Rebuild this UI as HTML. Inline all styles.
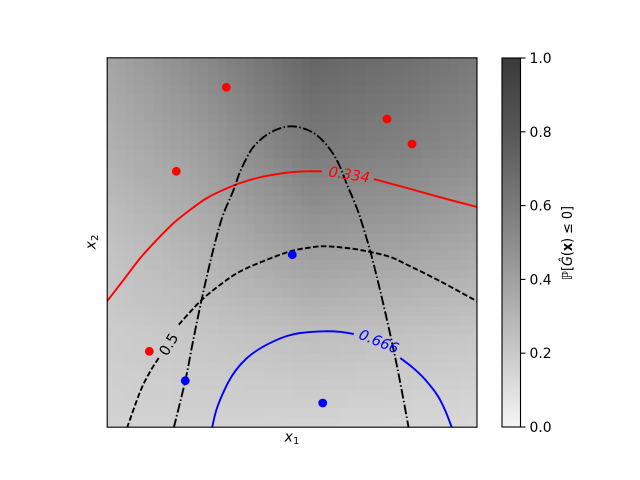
<!DOCTYPE html>
<html><head><meta charset="utf-8">
<style>
html,body{margin:0;padding:0;background:#fff;}
#wrap{position:relative;width:640px;height:480px;overflow:hidden;background:#fff;}
#bg{position:absolute;left:107px;top:58px;width:370px;height:369px;
background:linear-gradient(to bottom,#747474 0%,#8a8a8a 25%,#a6a6a6 50%,#c4c4c4 75%,#d4d4d4 100%);}
canvas{position:absolute;left:107px;top:58px;}
svg{position:absolute;left:0;top:0;}
text{font-family:"DejaVu Sans","Liberation Sans",sans-serif;}
</style></head>
<body><div id="wrap">
<div id="bg"></div>
<canvas id="cv" width="370" height="369"></canvas>
<svg width="640" height="480" viewBox="0 0 640 480" xmlns="http://www.w3.org/2000/svg">
<defs>
<clipPath id="ax"><rect x="107" y="58" width="370" height="369"/></clipPath>
<linearGradient id="cb" x1="0" y1="1" x2="0" y2="0">
<stop offset="0" stop-color="#f5f5f5"/>
<stop offset="0.2" stop-color="#c9c9c9"/>
<stop offset="0.4" stop-color="#a0a0a0"/>
<stop offset="0.6" stop-color="#7a7a7a"/>
<stop offset="0.8" stop-color="#575757"/>
<stop offset="1" stop-color="#3a3a3a"/>
</linearGradient>
</defs>
<g id="curves" clip-path="url(#ax)" fill="none" stroke-width="1.9">
<!-- red 0.334 -->
<polyline stroke="#ff0000" points="107,301.3 123.7,279.7 140.3,258 157,239.7 173.7,223 190.3,209.7 207,198 223.7,189.7 240.3,183 257,178 273.7,174.7 290.3,172.3 307,171.3 322,171.4"/>
<polyline stroke="#ff0000" points="373.7,179 407,188 440.3,197.3 477,207"/>
<!-- dash-dot -->
<polyline stroke="#000" stroke-dasharray="9.6 2.4 1.5 2.4" points="173.7,428 185.3,380.7 193,341.3 202,298 212,254.7 222,218 233,191.3 240.3,171.3 250.3,151.3 258.7,141.3 267,134.7 278,129 290.3,126.3 302,128 313.7,133 324,142 333.7,154.7 341,169 347,184.7 354,201 360.3,218 370.3,251.3 380.3,291.3 390.3,334.7 398.7,374.7 408.7,428"/>
<!-- dashed 0.5 -->
<polyline stroke="#000" stroke-dasharray="5.55 2.4" points="127,428 140.3,391.3 150.3,371.3 158.7,358"/>
<polyline stroke="#000" stroke-dasharray="5.55 2.4" points="178.7,324.7 200.3,301.3 220.3,284.7 240.3,271.3 267,259.7 290.3,251.3 307,248 323.7,246.3 347,248 367,251.3 390.3,257 407,264.7 440.3,281.3 477,301.3"/>
<!-- blue 0.666 -->
<polyline stroke="#0000ff" points="212,428 217,408 227,384.7 236,370 247,358 260,348.5 273.7,341.3 287,336 300.3,333 323.7,331.3 340,331.8 353.7,334"/>
<polyline stroke="#0000ff" points="400.3,358 412,367 423.7,378 437,394.7 445,410 452,428"/>
</g>
<!-- contour labels -->
<text x="0" y="0" font-size="14.5" font-style="italic" fill="#ff0000" text-anchor="middle" transform="translate(348.5,179.5) rotate(8.5)">0.334</text>
<text x="0" y="0" font-size="14.5" font-style="italic" fill="#0000ff" text-anchor="middle" transform="translate(377,346) rotate(22)">0.666</text>
<text x="0" y="0" font-size="14.5" fill="#000" text-anchor="middle" transform="translate(173,347) rotate(-59)">0.5</text>
<!-- points -->
<g fill="#ff0000">
<circle cx="226.3" cy="87.3" r="4.4"/>
<circle cx="387" cy="119" r="4.4"/>
<circle cx="412" cy="144" r="4.4"/>
<circle cx="176.3" cy="171.3" r="4.4"/>
<circle cx="149.3" cy="351.3" r="4.4"/>
</g>
<g fill="#0000ff">
<circle cx="292.3" cy="254.7" r="4.4"/>
<circle cx="185.3" cy="380.7" r="4.4"/>
<circle cx="322.7" cy="403" r="4.4"/>
</g>
<!-- axes frame -->
<rect x="107.2" y="57.8" width="369.8" height="369.4" fill="none" stroke="#000" stroke-width="1.1"/>
<!-- axis labels -->
<text x="292" y="441.5" font-size="14" font-style="italic" text-anchor="middle">x<tspan font-size="10" font-style="normal" dy="2.5">1</tspan></text>
<text x="0" y="0" font-size="14" font-style="italic" text-anchor="middle" transform="translate(95.5,242) rotate(-90)">x<tspan font-size="10" font-style="normal" dy="2.5">2</tspan></text>
<!-- colorbar -->
<rect x="502" y="58" width="18.5" height="369" fill="url(#cb)"/>
<rect x="502" y="58" width="18.5" height="369" fill="none" stroke="#000" stroke-width="1.1"/>
<g stroke="#000" stroke-width="1.1">
<line x1="520.5" y1="58" x2="525.5" y2="58"/>
<line x1="520.5" y1="131.8" x2="525.5" y2="131.8"/>
<line x1="520.5" y1="205.6" x2="525.5" y2="205.6"/>
<line x1="520.5" y1="279.4" x2="525.5" y2="279.4"/>
<line x1="520.5" y1="353.2" x2="525.5" y2="353.2"/>
<line x1="520.5" y1="427" x2="525.5" y2="427"/>
</g>
<g font-size="13.9" fill="#000">
<text x="529.5" y="63">1.0</text>
<text x="529.5" y="136.8">0.8</text>
<text x="529.5" y="210.6">0.6</text>
<text x="529.5" y="284.4">0.4</text>
<text x="529.5" y="358.2">0.2</text>
<text x="529.5" y="432">0.0</text>
</g>
<text x="0" y="0" font-size="13.9" text-anchor="middle" transform="translate(572,243) rotate(-90)" textLength="74" lengthAdjust="spacingAndGlyphs">ℙ[<tspan font-style="italic">Ĝ</tspan>(<tspan font-weight="bold">x</tspan>) ≤ 0]</text>
</svg>
</div>
<script>
(function(){
var c=document.getElementById('cv');if(!c||!c.getContext)return;
var ctx=c.getContext('2d');
var T=[[165,138,102,110,121],[178,158,122,130,140],[194,178,155,160,168],[204,198,190,194,198],[210,210,212,214,217]];
var U=[0,0.25,0.55,0.8,1],V=[0,0.25,0.5,0.75,1];
function ip(xs,ys,x){for(var i=0;i<xs.length-1;i++){if(x<=xs[i+1]||i==xs.length-2){var t=(x-xs[i])/(xs[i+1]-xs[i]);return ys[i]+t*(ys[i+1]-ys[i]);}}return ys[ys.length-1];}
var N=40,W=370,H=369;
for(var i=0;i<N;i++){for(var j=0;j<N;j++){
var u=(i+0.5)/N,v=(j+0.5)/N;
var col=[];for(var r=0;r<5;r++){col.push(ip(U,T[r],u));}
var g=Math.round(ip(V,col,v));
ctx.fillStyle='rgb('+g+','+g+','+g+')';
var x0=Math.floor(i*W/N),x1=Math.floor((i+1)*W/N),y0=Math.floor(j*H/N),y1=Math.floor((j+1)*H/N);
ctx.fillRect(x0,y0,x1-x0,y1-y0);
}}
})();
(function(){
try{
var ns='http://www.w3.org/2000/svg';
var pls=document.querySelectorAll('#curves polyline');
for(var k=0;k<pls.length;k++){
var pl=pls[k];
var raw=pl.getAttribute('points').trim().split(/\s+/);
var P=raw.map(function(s){var a=s.split(',');return [parseFloat(a[0]),parseFloat(a[1])];});
if(P.length<3)continue;
var d='M'+P[0][0]+','+P[0][1];
for(var i=0;i<P.length-1;i++){
var p0=P[i>0?i-1:0],p1=P[i],p2=P[i+1],p3=P[i+2<P.length?i+2:P.length-1];
var c1x=p1[0]+(p2[0]-p0[0])/6,c1y=p1[1]+(p2[1]-p0[1])/6;
var c2x=p2[0]-(p3[0]-p1[0])/6,c2y=p2[1]-(p3[1]-p1[1])/6;
d+=' C'+c1x.toFixed(2)+','+c1y.toFixed(2)+' '+c2x.toFixed(2)+','+c2y.toFixed(2)+' '+p2[0]+','+p2[1];
}
var path=document.createElementNS(ns,'path');
path.setAttribute('d',d);
path.setAttribute('stroke',pl.getAttribute('stroke'));
var da=pl.getAttribute('stroke-dasharray');if(da)path.setAttribute('stroke-dasharray',da);
pl.parentNode.replaceChild(path,pl);
}
}catch(e){}
})();
</script>
</body></html>
